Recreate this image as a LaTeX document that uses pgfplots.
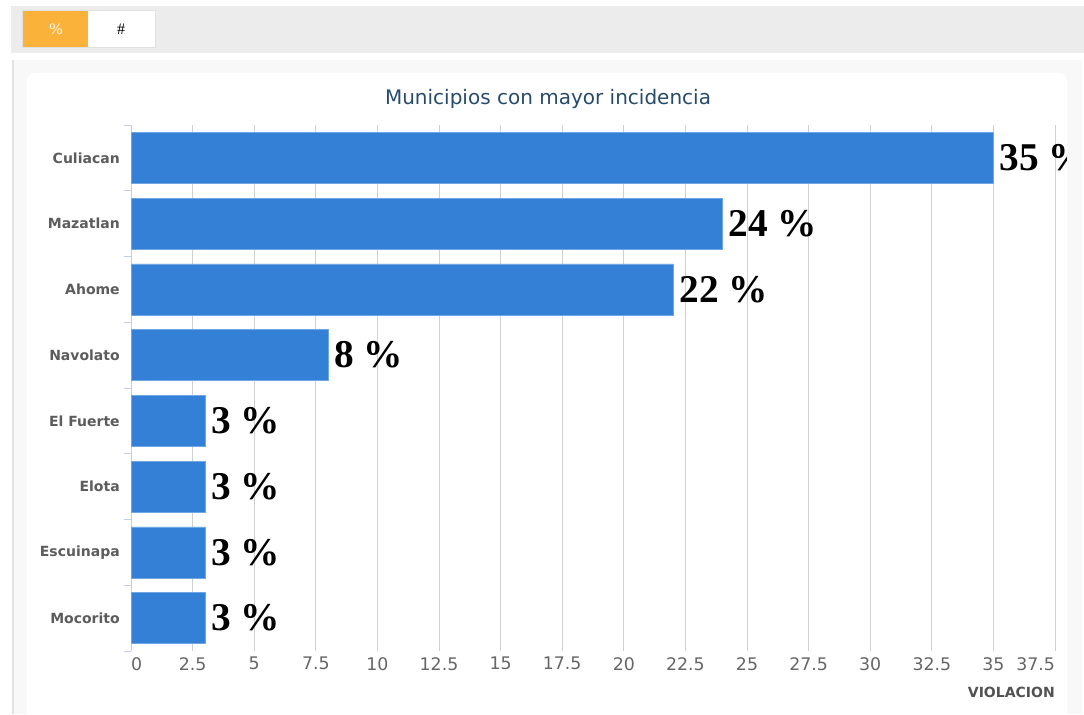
\documentclass[border=0pt]{standalone}
\usepackage{fontspec}
\setmainfont{DejaVu Sans}
\newfontfamily\lblfont{Liberation Serif}
\usepackage{pgfplots}
\pgfplotsset{compat=1.18}
\definecolor{barblue}{HTML}{3380D6}
\definecolor{baredge}{HTML}{6FA6E4}
\definecolor{axblue}{HTML}{C0D0E0}
\definecolor{gridc}{HTML}{D0D0D0}
\definecolor{lblgrey}{HTML}{666666}
\definecolor{titlec}{HTML}{274B6D}
\definecolor{toolbar}{HTML}{ECECEC}
\definecolor{panel}{HTML}{F8F8F8}
\definecolor{panelline}{HTML}{E2E2E2}
\definecolor{btnborder}{HTML}{E0E0E0}
\definecolor{orangebtn}{HTML}{FBB23B}
\begin{document}
\begin{tikzpicture}[x=0.75pt,y=0.75pt]
\useasboundingbox (0,0) rectangle (1084,714);
\fill[white] (0,0) rectangle (1084,714);
% toolbar
\fill[toolbar] (11,661) rectangle (1084,708);
\fill[btnborder] (22,666) rectangle (156,704);
\fill[orangebtn] (23,667) rectangle (88,703);
\fill[white] (88,667) rectangle (155,703);
\node[text=white,font=\lblfont\fontsize{12}{14}\selectfont] at (56,685) {\%};
\node[text=black,font=\lblfont\fontsize{12}{14}\selectfont] at (121,685) {\#};
% panel
\fill[panelline] (12,0) rectangle (14,654);
\fill[panel] (14,0) rectangle (1082,654);
\fill[white,rounded corners=6] (27,-20) rectangle (1067,641);
% title
\node[text=titlec,font=\fontsize{15}{18}\selectfont] at (548,615) {Municipios con mayor incidencia};
\begin{axis}[
  at={(98.25pt,47.25pt)}, anchor=south west,
  scale only axis, width=693pt, height=394.5pt,
  xbar, bar width=38.25pt,
  xmin=0, xmax=37.5, ymin=-0.5, ymax=7.5,
  clip=false,
  axis lines*=left,
  axis line style={-},
  x axis line style={draw=none},
  y axis line style={draw=axblue, line width=0.75pt},
  xtick={0,2.5,...,37.5},
  xticklabels={\makebox[0pt][l]{0},2.5,5,7.5,10,12.5,15,17.5,20,22.5,25,27.5,30,32.5,35,\makebox[0pt][r]{37.5}},
  xtick style={draw=none},
  xticklabel style={inner sep=0pt, yshift=-4.5pt, text=lblgrey, font=\fontsize{13}{15}\selectfont},
  xmajorgrids,
  major grid style={draw=gridc, line width=0.75pt},
  ytick={0,...,7},
  yticklabels={Mocorito,Escuinapa,Elota,El Fuerte,Navolato,Ahome,Mazatlan,Culiacan},
  major tick length=0pt,
  ytick style={draw=axblue, line width=0.75pt},
  yticklabel style={inner sep=0pt, xshift=-8.25pt, text=lblgrey!90!black, font=\bfseries\fontsize{10.5}{12}\selectfont},
  extra y ticks={-0.5,0.5,1.5,2.5,3.5,4.5,5.5,6.5,7.5},
  extra y tick labels={},
  extra y tick style={major tick length=5pt, tick align=outside, ytick style={draw=axblue, line width=0.75pt}},
  /pgf/number format/assume math mode=true,
  nodes near coords={\pgfmathprintnumber{\pgfplotspointmeta}\ \%},
  every node near coord/.append style={anchor=west, inner sep=0pt, xshift=4.5pt, text=black, font=\lblfont\bfseries\fontsize{29.5}{31}\selectfont},
]
\addplot[fill=barblue, draw=baredge, line width=0.5pt] coordinates {(3,0) (3,1) (3,2) (3,3) (8,4) (22,5) (24,6) (35,7)};
\end{axis}
\node[anchor=base east, inner sep=0pt, text=lblgrey!80!black, font=\bfseries\fontsize{10.5}{12}\selectfont] at (1055,17) {VIOLACION};
% right edge of card
\fill[panel] (1067,0) rectangle (1082,654);
\fill[white] (1082,0) rectangle (1084,654);
\end{tikzpicture}
\end{document}
